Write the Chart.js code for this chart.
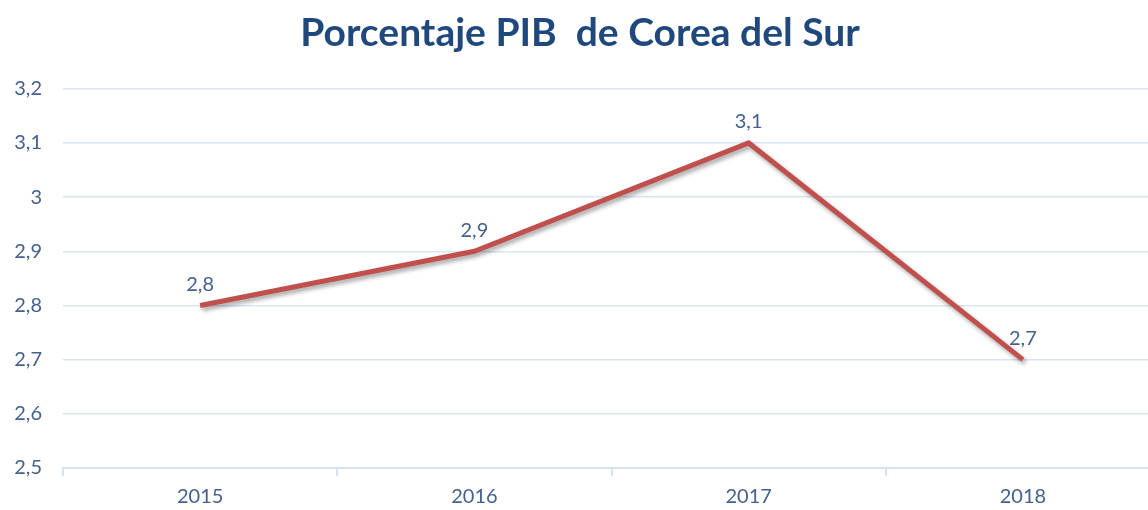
<!DOCTYPE html>
<html>
<head>
<meta charset="utf-8">
<script src="https://cdn.jsdelivr.net/npm/chart.js@4.4.0/dist/chart.umd.min.js"></script>
<style>
  html, body { margin: 0; padding: 0; background: #fff; overflow: hidden; }
  #wrap { width: 1160px; height: 510px; position: relative; }
</style>
</head>
<body>
<div id="wrap"><canvas id="pibChart"></canvas></div>
<script>
// Datos
const years = ['2015', '2016', '2017', '2018'];
const pib = [2.8, 2.9, 3.1, 2.7];
const yMin = 2.5;
const yMax = 3.2;
const yStep = 0.1;

const textBlue = '#44618e';
const fontFam = 'Lato, "Open Sans", sans-serif';
const fmt = v => String(Number(v.toFixed(1))).replace('.', ',');

// Sombra suave de la línea
const lineShadow = {
  id: 'lineShadow',
  beforeDatasetsDraw(chart) {
    const c = chart.ctx;
    c.save();
    c.shadowColor = 'rgba(0,0,0,0.35)';
    c.shadowBlur = 4;
    c.shadowOffsetX = 2;
    c.shadowOffsetY = 3;
  },
  afterDatasetsDraw(chart) {
    chart.ctx.restore();
  }
};

// Etiquetas de datos encima de cada punto
const dataLabels = {
  id: 'dataLabels',
  afterDatasetsDraw(chart) {
    const c = chart.ctx;
    const meta = chart.getDatasetMeta(0);
    c.save();
    c.font = '20px ' + fontFam;
    c.fillStyle = textBlue;
    c.textAlign = 'center';
    c.textBaseline = 'bottom';
    meta.data.forEach((pt, i) => {
      c.fillText(fmt(pib[i]), pt.x, pt.y - 11);
    });
    c.restore();
  }
};

new Chart(document.getElementById('pibChart'), {
  type: 'line',
  data: {
    labels: years,
    datasets: [{
      data: pib,
      borderColor: '#c0504d',
      borderWidth: 5,
      pointRadius: 0,
      tension: 0,
      fill: false
    }]
  },
  options: {
    responsive: true,
    maintainAspectRatio: false,
    animation: false,
    layout: { padding: 0 },
    plugins: {
      legend: { display: false },
      tooltip: { enabled: false },
      title: {
        display: true,
        text: 'Porcentaje PIB  de Corea del Sur',
        color: '#1f497d',
        font: { family: fontFam, size: 39, weight: 'bold' },
        padding: { top: 10, bottom: 32 }
      }
    },
    scales: {
      x: {
        offset: true,
        afterFit(scale) { scale.height = 42; },
        grid: {
          offset: true,
          drawOnChartArea: false,
          drawTicks: true,
          tickLength: 8,
          color: '#d9e2f0',
          lineWidth: 2
        },
        border: { color: '#d9e2f0', width: 2 },
        ticks: {
          color: textBlue,
          font: { family: fontFam, size: 20 },
          padding: 9
        }
      },
      y: {
        min: yMin,
        max: yMax,
        afterFit(scale) { scale.width = 63; },
        grid: { color: '#dbe4f1', lineWidth: 1.5, drawTicks: false },
        border: { display: false },
        ticks: {
          stepSize: yStep,
          color: textBlue,
          font: { family: fontFam, size: 20 },
          padding: 21,
          callback: v => fmt(v)
        }
      }
    }
  },
  plugins: [lineShadow, dataLabels]
});
</script>
</body>
</html>
